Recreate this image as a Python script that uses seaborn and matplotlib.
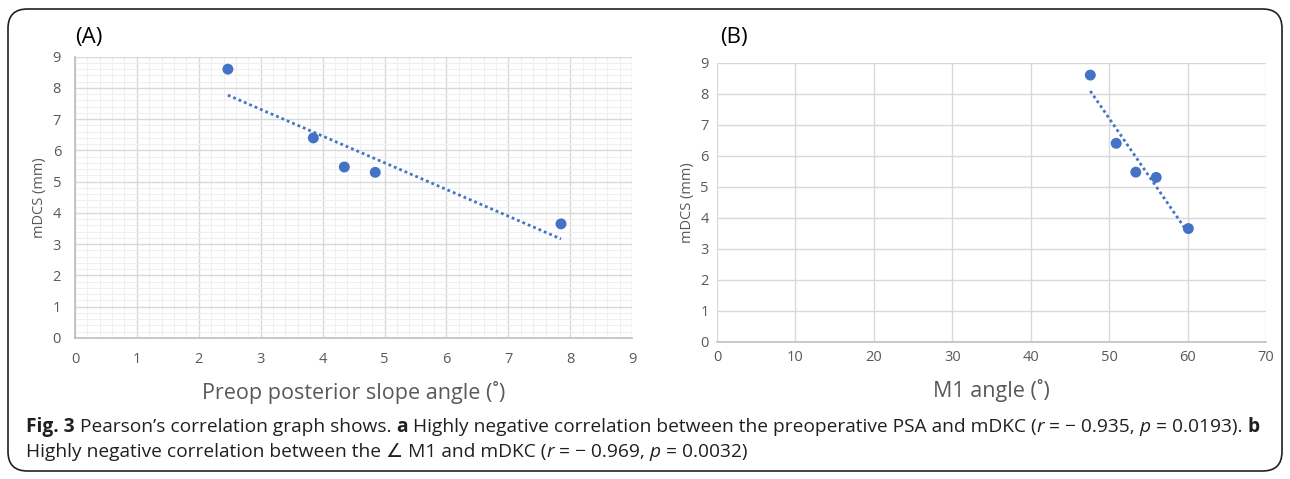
import numpy as np
import pandas as pd
import matplotlib
matplotlib.use("Agg")
import matplotlib.pyplot as plt
from matplotlib.patches import FancyBboxPatch
from matplotlib.ticker import MultipleLocator
import seaborn as sns

sns.set_theme(style="white")
plt.rcParams["font.family"] = ["Open Sans", "DejaVu Sans"]

# data
mdcs = [8.6, 6.4, 5.47, 5.3, 3.65]
psa = [2.47, 3.85, 4.35, 4.85, 7.85]
m1 = [47.6, 50.9, 53.4, 56.0, 60.1]

df = pd.DataFrame({"psa": psa, "m1": m1, "mdcs": mdcs})

BLUE = "#4472C4"
GRID = "#d9d9d9"
TXT = "#595959"

fig = plt.figure(figsize=(12.9, 4.79), dpi=100)

# rounded frame around the whole figure
frame = FancyBboxPatch((8 / 1290, 8 / 479), 1274 / 1290, 462 / 479,
                       boxstyle="round,pad=0,rounding_size=0.015",
                       transform=fig.transFigure, fill=False,
                       edgecolor="#231f20", lw=1.2, mutation_aspect=1290 / 479)
fig.patches.append(frame)

ax1 = fig.add_axes([0.0581, 0.2944, 0.432, 0.5873])
ax2 = fig.add_axes([0.5558, 0.2866, 0.4256, 0.5825])


def style_axis(ax, xmax, xstep, ticks):
    ax.set_xlim(0, xmax)
    ax.set_ylim(0, 9)
    ax.xaxis.set_major_locator(MultipleLocator(xstep))
    ax.yaxis.set_major_locator(MultipleLocator(1))
    ax.grid(True, which="major", color=GRID, lw=1)
    ax.set_axisbelow(True)
    for s in ["top", "right", "left"]:
        ax.spines[s].set_visible(False)
    ax.spines["bottom"].set_color("#bfbfbf")
    ax.spines["bottom"].set_linewidth(1.2)
    ax.tick_params(axis="both", labelsize=10.5, labelcolor=TXT, colors="#bfbfbf",
                   length=4 if ticks else 0, width=1, pad=6)
    for lab in ax.get_xticklabels() + ax.get_yticklabels():
        lab.set_color(TXT)


for ax, xcol, xmax, xstep, ticks in [(ax1, "psa", 9, 1, True), (ax2, "m1", 70, 10, False)]:
    sns.regplot(data=df, x=xcol, y="mdcs", ax=ax, ci=None, truncate=True,
                scatter_kws=dict(s=62, color=BLUE, alpha=1, edgecolor="none", zorder=3),
                line_kws=dict(color=BLUE, lw=2, ls=(0, (1, 1.1))))
    style_axis(ax, xmax, xstep, ticks)
    ax.set_ylabel("mDCS (mm)", fontsize=10.5, color=TXT, labelpad=4)

# minor grid on panel A
ax1.xaxis.set_minor_locator(MultipleLocator(0.2))
ax1.yaxis.set_minor_locator(MultipleLocator(0.2))
ax1.grid(True, which="minor", color="#efefef", lw=0.8)
ax1.tick_params(which="minor", length=0)
ax1.spines["left"].set_visible(True)
ax1.spines["left"].set_color("#bfbfbf")

ax1.set_xlabel("Preop posterior slope angle (˚)", fontsize=15.5, color=TXT, labelpad=10)
ax2.set_xlabel("M1 angle (˚)", fontsize=15.5, color=TXT, labelpad=10)

fig.text(75 / 1290, 1 - 37 / 479, "(A)", fontsize=16, color="black", va="center")
fig.text(720 / 1290, 1 - 37 / 479, "(B)", fontsize=16, color="black", va="center")

# caption with mixed bold / italic pieces
renderer = fig.canvas.get_renderer()


def rich_line(x_px, y_px, pieces, size=13.8):
    x = x_px
    for txt, w, st in pieces:
        t = fig.text(x / 1290, 1 - y_px / 479, txt, fontsize=size, fontweight=w,
                     fontstyle=st, color="#231f20", va="center",
                     transform=fig.transFigure)
        bb = t.get_window_extent(renderer)
        x += bb.width


line1 = [("Fig. 3", "bold", "normal"), (" Pearson’s correlation graph shows. ", "normal", "normal"),
         ("a", "bold", "normal"),
         (" Highly negative correlation between the preoperative PSA and mDKC (", "normal", "normal"),
         ("r", "normal", "italic"), (" = − 0.935, ", "normal", "normal"),
         ("p", "normal", "italic"), (" = 0.0193). ", "normal", "normal"), ("b", "bold", "normal")]
line2 = [("Highly negative correlation between the ∠ M1 and mDKC (", "normal", "normal"),
         ("r", "normal", "italic"), (" = − 0.969, ", "normal", "normal"),
         ("p", "normal", "italic"), (" = 0.0032)", "normal", "normal")]
rich_line(26, 427, line1)
rich_line(26, 452, line2)

fig.savefig("out.png", dpi=100)
